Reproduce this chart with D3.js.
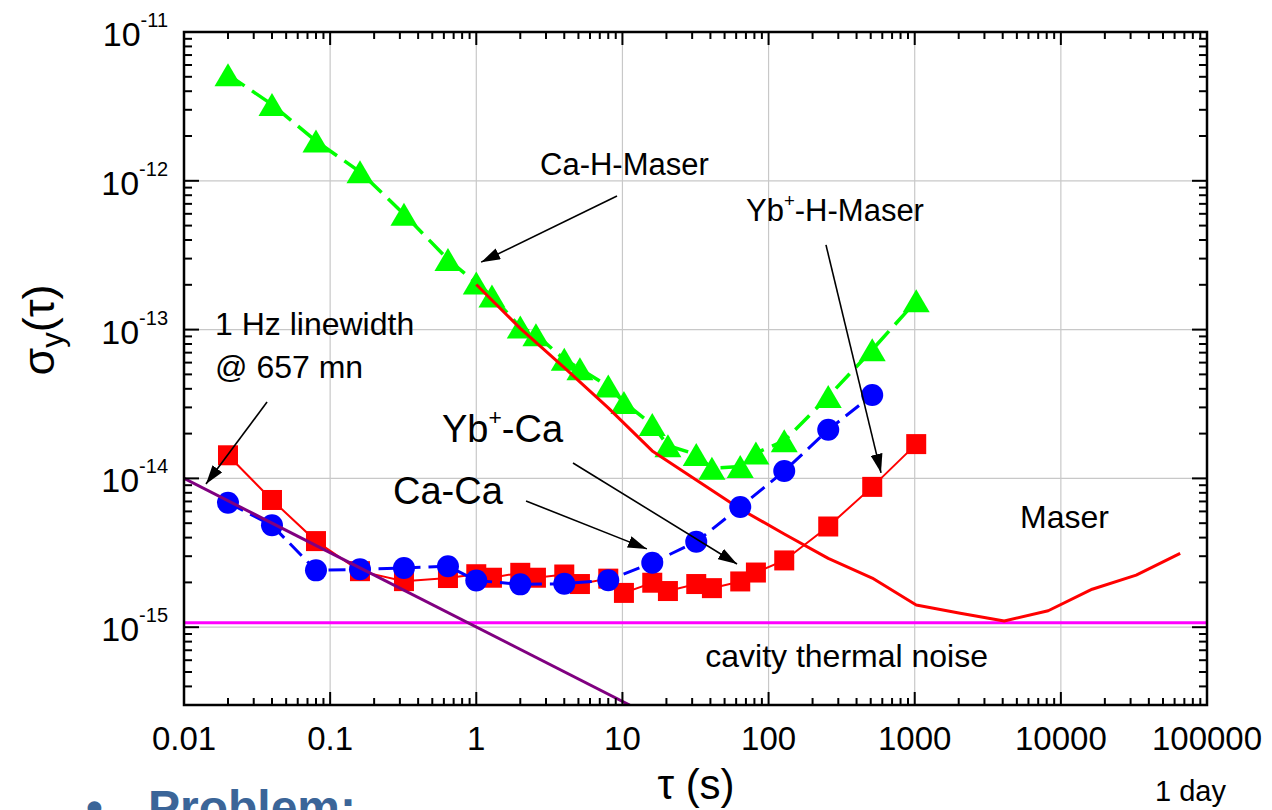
<!DOCTYPE html>
<html>
<head>
<meta charset="utf-8">
<script src="https://cdn.jsdelivr.net/npm/d3@7"></script>
<style>
  body { margin: 0; background: #fff; }
  svg { display: block; }
  text { font-family: "Liberation Sans", Arial, sans-serif; fill: #000; }
</style>
</head>
<body>
<svg id="chart" width="1272" height="810"></svg>
<script>
// Allan deviation sigma_y(tau) of the clock comparisons

// Ca vs hydrogen maser (green triangles)
const tauCaH = [0.02, 0.04, 0.08, 0.16, 0.32, 0.64, 1, 1.28, 2, 2.56, 4, 5.12, 8, 10.24,
                16, 20.48, 32, 40.96, 64, 81.92, 128, 256, 512, 1024];
const sigmaCaH = [5.17e-12, 3.26e-12, 1.85e-12, 1.15e-12, 5.97e-13, 2.96e-13, 2.06e-13, 1.68e-13,
                  1.04e-13, 9.25e-14, 6.31e-14, 5.46e-14, 4.17e-14, 3.24e-14, 2.30e-14, 1.66e-14,
                  1.45e-14, 1.17e-14, 1.20e-14, 1.48e-14, 1.79e-14, 3.55e-14, 7.31e-14, 1.56e-13];

// Yb+ comparisons (red squares)
const tauYb = [0.02, 0.04, 0.08, 0.16, 0.32, 0.64, 1, 1.28, 2, 2.56, 4, 5.12, 8, 10.24,
               16, 20.48, 32, 40.96, 64, 81.92, 128, 256, 512, 1024];
const sigmaYb = [1.43e-14, 7.16e-15, 3.79e-15, 2.38e-15, 2.04e-15, 2.14e-15, 2.27e-15, 2.15e-15,
                 2.32e-15, 2.15e-15, 2.26e-15, 1.95e-15, 2.12e-15, 1.70e-15, 1.99e-15, 1.75e-15,
                 1.95e-15, 1.83e-15, 2.03e-15, 2.33e-15, 2.81e-15, 4.75e-15, 8.77e-15, 1.70e-14];

// Ca vs Ca (blue circles)
const tauCaCa = [0.02, 0.04, 0.08, 0.16, 0.32, 0.64, 1, 2, 4, 8, 16, 32, 64, 128, 256, 512];
const sigmaCaCa = [6.87e-15, 4.84e-15, 2.41e-15, 2.45e-15, 2.50e-15, 2.57e-15, 2.06e-15, 1.94e-15,
                   1.96e-15, 2.07e-15, 2.71e-15, 3.75e-15, 6.43e-15, 1.12e-14, 2.12e-14, 3.63e-14];

// Hydrogen maser specification (red line)
const tauMaser = [1, 2, 4, 8, 16, 32, 64, 128, 256, 512, 1024, 2048, 4096, 8192, 16384, 32768, 65536];
const sigmaMaser = [2.01e-13, 1.02e-13, 5.55e-14, 2.98e-14, 1.53e-14, 9.77e-15, 6.23e-15, 4.23e-15,
                    2.90e-15, 2.14e-15, 1.41e-15, 1.24e-15, 1.10e-15, 1.29e-15, 1.80e-15, 2.24e-15, 3.13e-15];

// 1 Hz linewidth at 657 nm (purple line)
const tauLinewidth = [0.01, 11.2];
const sigmaLinewidth = [1.0e-14, 3.0e-16];

// Cavity thermal noise floor (magenta)
const thermalNoise = 1.07e-15;

// Axis ticks
const xTickValues = [0.01, 0.1, 1, 10, 100, 1000, 10000, 100000];
const xTickLabels = ["0.01", "0.1", "1", "10", "100", "1000", "10000", "100000"];
const yTickValues = [1e-11, 1e-12, 1e-13, 1e-14, 1e-15];
const yTickExponents = ["-11", "-12", "-13", "-14", "-15"];

// Annotation arrows in data coordinates
const arrows = [
  { from: [9.18, 7.91e-13], to: [1.08, 2.84e-13] },   // Ca-H-Maser
  { from: [247, 3.71e-13], to: [588, 1.09e-14] },     // Yb+-H-Maser
  { from: [4.59, 1.27e-14], to: [60.8, 2.66e-15] },   // Yb+-Ca
  { from: [2.19, 7.05e-15], to: [14.7, 3.36e-15] },   // Ca-Ca
  { from: [0.037, 3.26e-14], to: [0.01414, 9.16e-15] } // 1 Hz linewidth
];

const svg = d3.select("#chart");
const X0 = 184, X1 = 1207, Y0 = 705, Y1 = 32;
const x = d3.scaleLog().domain([0.01, 1e5]).range([X0, X1]);
const y = d3.scaleLog().domain([3e-16, 1e-11]).range([Y0, Y1]);

const defs = svg.append("defs");
defs.append("clipPath").attr("id", "plotClip")
  .append("rect").attr("x", X0).attr("y", Y1).attr("width", X1 - X0).attr("height", Y0 - Y1);
defs.append("marker").attr("id", "arrowHead")
  .attr("markerUnits", "userSpaceOnUse")
  .attr("markerWidth", 20).attr("markerHeight", 12)
  .attr("refX", 19).attr("refY", 6).attr("orient", "auto")
  .append("path").attr("d", "M0,0 L19,6 L0,12 Z").attr("fill", "#000");

// Grid
const isMajor = v => Math.abs(Math.log10(v) - Math.round(Math.log10(v))) < 1e-9;
const grid = svg.append("g").attr("stroke", "#c8c8c8").attr("stroke-width", 1.2);
grid.selectAll(".gx").data(xTickValues.slice(1, -1)).join("line")
  .attr("x1", d => x(d)).attr("x2", d => x(d)).attr("y1", Y1).attr("y2", Y0);
grid.selectAll(".gy").data(yTickValues.slice(1)).join("line")
  .attr("x1", X0).attr("x2", X1).attr("y1", d => y(d)).attr("y2", d => y(d));

const plot = svg.append("g").attr("clip-path", "url(#plotClip)");
const line = d3.line().x(d => x(d[0])).y(d => y(d[1]));
const pairs = (t, s) => t.map((v, i) => [v, s[i]]);

// Thermal noise floor
plot.append("line")
  .attr("x1", X0).attr("x2", X1).attr("y1", y(thermalNoise)).attr("y2", y(thermalNoise))
  .attr("stroke", "#ff00ff").attr("stroke-width", 3);

// Ca-H-Maser
const caH = pairs(tauCaH, sigmaCaH);
plot.append("path").datum(caH).attr("d", line)
  .attr("fill", "none").attr("stroke", "#00ff00").attr("stroke-width", 3.5)
  .attr("stroke-dasharray", "20,9");
const tri = "M0,-11.5 L13.5,11.5 L-13.5,11.5 Z";
plot.selectAll(".tri").data(caH).join("path")
  .attr("d", tri).attr("fill", "#00ff00")
  .attr("transform", d => `translate(${x(d[0])},${y(d[1])})`);

// Maser
plot.append("path").datum(pairs(tauMaser, sigmaMaser)).attr("d", line)
  .attr("fill", "none").attr("stroke", "#ff0000").attr("stroke-width", 3)
  .attr("stroke-linejoin", "round");

// Yb+ squares
const yb = pairs(tauYb, sigmaYb);
plot.append("path").datum(yb).attr("d", line)
  .attr("fill", "none").attr("stroke", "#ff0000").attr("stroke-width", 2);
plot.selectAll(".sq").data(yb).join("rect")
  .attr("x", d => x(d[0]) - 10).attr("y", d => y(d[1]) - 10)
  .attr("width", 20).attr("height", 20).attr("fill", "#ff0000");

// Ca-Ca circles
const caca = pairs(tauCaCa, sigmaCaCa);
plot.append("path").datum(caca).attr("d", line)
  .attr("fill", "none").attr("stroke", "#0000ff").attr("stroke-width", 3)
  .attr("stroke-dasharray", "17,8");
plot.selectAll(".ci").data(caca).join("circle")
  .attr("cx", d => x(d[0])).attr("cy", d => y(d[1])).attr("r", 11).attr("fill", "#0000ff");

// Linewidth limit
plot.append("path").datum(pairs(tauLinewidth, sigmaLinewidth)).attr("d", line)
  .attr("fill", "none").attr("stroke", "#800080").attr("stroke-width", 3);

// Frame and ticks
const axes = svg.append("g").attr("stroke", "#000");
const xAll = x.ticks().filter(v => v >= 0.01 && v <= 1e5);
const yAll = y.ticks().filter(v => v >= 3e-16 && v <= 1e-11);
axes.selectAll(".xtb").data(xAll).join("line")
  .attr("x1", d => x(d)).attr("x2", d => x(d))
  .attr("y1", Y0).attr("y2", d => Y0 - (isMajor(d) ? 13 : 7)).attr("stroke-width", 2);
axes.selectAll(".xtt").data(xAll).join("line")
  .attr("x1", d => x(d)).attr("x2", d => x(d))
  .attr("y1", Y1).attr("y2", d => Y1 + (isMajor(d) ? 13 : 7)).attr("stroke-width", 2);
axes.selectAll(".ytl").data(yAll).join("line")
  .attr("y1", d => y(d)).attr("y2", d => y(d))
  .attr("x1", X0).attr("x2", d => X0 + (isMajor(d) ? 15 : 8)).attr("stroke-width", 2);
axes.selectAll(".ytr").data(yAll).join("line")
  .attr("y1", d => y(d)).attr("y2", d => y(d))
  .attr("x1", X1).attr("x2", d => X1 - (isMajor(d) ? 15 : 8)).attr("stroke-width", 2);
axes.append("rect").attr("x", X0).attr("y", Y1).attr("width", X1 - X0).attr("height", Y0 - Y1)
  .attr("fill", "none").attr("stroke-width", 2.5);

// Tick labels
svg.selectAll(".xl").data(xTickValues).join("text")
  .attr("x", d => x(d)).attr("y", 750).attr("text-anchor", "middle")
  .attr("font-size", 33).text((d, i) => xTickLabels[i]);
const yl = svg.selectAll(".yl").data(yTickValues).join("text")
  .attr("x", 168).attr("y", d => y(d) + 14).attr("text-anchor", "end").attr("font-size", 34);
yl.append("tspan").text("10");
yl.append("tspan").attr("dy", -19).attr("font-size", 20).text((d, i) => yTickExponents[i]);

// Axis titles
svg.append("text").attr("x", 696).attr("y", 799).attr("text-anchor", "middle")
  .attr("font-size", 42).text("τ (s)");
const yt = svg.append("text").attr("transform", "translate(54,330) rotate(-90)")
  .attr("text-anchor", "middle").attr("font-size", 45);
yt.append("tspan").text("σ");
yt.append("tspan").attr("dy", 9).attr("font-size", 31).text("y");
yt.append("tspan").attr("dy", -9).text("(τ)");

// Arrows
svg.append("g").selectAll("line").data(arrows).join("line")
  .attr("x1", d => x(d.from[0])).attr("y1", d => y(d.from[1]))
  .attr("x2", d => x(d.to[0])).attr("y2", d => y(d.to[1]))
  .attr("stroke", "#000").attr("stroke-width", 1.6).attr("marker-end", "url(#arrowHead)");

// Annotation labels
function label(tx, ty, size, parts, anchor) {
  const t = svg.append("text").attr("x", tx).attr("y", ty).attr("font-size", size)
    .attr("text-anchor", anchor || "start");
  parts.forEach(p => {
    const s = t.append("tspan").text(p.t);
    if (p.sup) s.attr("dy", -size * 0.45).attr("font-size", size * 0.6);
    if (p.back) s.attr("dy", size * 0.45);
  });
}
label(540, 175, 31, [{ t: "Ca-H-Maser" }]);
label(746, 221, 31, [{ t: "Yb" }, { t: "+", sup: true }, { t: "-H-Maser", back: true }]);
label(215, 335, 32, [{ t: "1 Hz linewidth" }]);
label(215, 378, 32, [{ t: "@ 657 mn" }]);
label(442, 442, 38, [{ t: "Yb" }, { t: "+", sup: true }, { t: "-Ca", back: true }]);
label(393, 504, 38, [{ t: "Ca-Ca" }]);
label(1020, 528, 32, [{ t: "Maser" }]);
label(988, 667, 32, [{ t: "cavity thermal noise" }], "end");
label(1155, 801, 29, [{ t: "1 day" }]);

// Slide bullet below the figure
const slideFont = "Lato, 'Open Sans', sans-serif";
svg.append("text").attr("x", 86).attr("y", 824).attr("font-size", 48)
  .attr("font-family", slideFont).attr("font-weight", "bold")
  .style("fill", "#3b6598").text("•");
svg.append("text").attr("x", 148).attr("y", 824).attr("font-size", 48)
  .attr("font-family", slideFont).attr("font-weight", "bold")
  .style("fill", "#3b6598").text("Problem:");
</script>
</body>
</html>
